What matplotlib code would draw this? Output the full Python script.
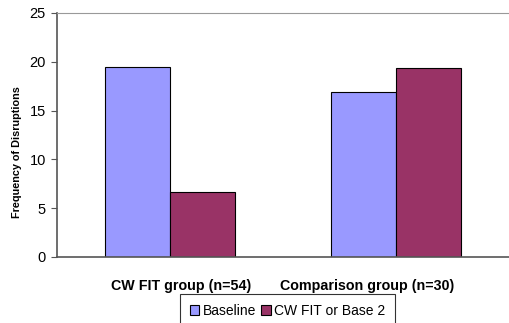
import matplotlib
matplotlib.use('agg')

import matplotlib.pyplot as plt
import matplotlib.transforms as mtransforms
import numpy as np

groups = ['CW FIT group (n=54)', 'Comparison group (n=30)']
baseline = [19.5, 16.9]
cwfit = [6.7, 19.4]
series_names = ['Baseline', 'CW FIT or Base 2']

plt.rcParams['font.family'] = ['Liberation Sans', 'DejaVu Sans']

fig = plt.figure(figsize=(5.09, 3.23), dpi=100)
ax = fig.add_axes([57 / 509, 1 - 257 / 323, 452 / 509, 244 / 323])

idxs = np.arange(len(groups))
width = 0.289
ax.bar(idxs - width / 2, baseline, width, color='#9999FF', edgecolor='black', linewidth=0.8,
       label=series_names[0])
ax.bar(idxs + width / 2, cwfit, width, color='#993366', edgecolor='black', linewidth=0.8,
       label=series_names[1])

ax.set_xlim(-0.5, 1.5)
ax.set_ylim(0, 25)
ax.set_yticks([0, 5, 10, 15, 20, 25])
ax.set_xticks(idxs)
ax.set_xticklabels(groups, fontsize=10.3, fontweight='bold')
ax.tick_params(axis='x', length=0, pad=16)
ax.tick_params(axis='y', labelsize=10.5, length=4, width=0.8, color='#555555', pad=4)

# Excel lays the category labels out slightly off the group centres
shifts = [11, -29]
for lbl, dx in zip(ax.get_xticklabels(), shifts):
    lbl.set_transform(lbl.get_transform() + mtransforms.ScaledTranslation(dx / 100, 0, fig.dpi_scale_trans))

for side in ['left', 'bottom']:
    ax.spines[side].set_color('#555555')
    ax.spines[side].set_linewidth(1.2)
ax.spines['top'].set_color('#999999')
ax.spines['top'].set_linewidth(0.8)
ax.spines['right'].set_visible(False)

fig.text(17 / 509, 1 - 152 / 323, 'Frequency of Disruptions', rotation=90, fontsize=7.8,
         fontweight='bold', ha='center', va='center')

leg = fig.legend(loc='upper left', bbox_to_anchor=(180 / 509, 1 - 294 / 323), ncol=2,
                 fontsize=10, frameon=True, fancybox=False, handlelength=0.7, handleheight=0.7,
                 handletextpad=0.25, columnspacing=0.35, borderpad=0.7, borderaxespad=0)
leg.get_frame().set_edgecolor('black')
leg.get_frame().set_linewidth(0.8)

fig.savefig('out.png', dpi=100)
